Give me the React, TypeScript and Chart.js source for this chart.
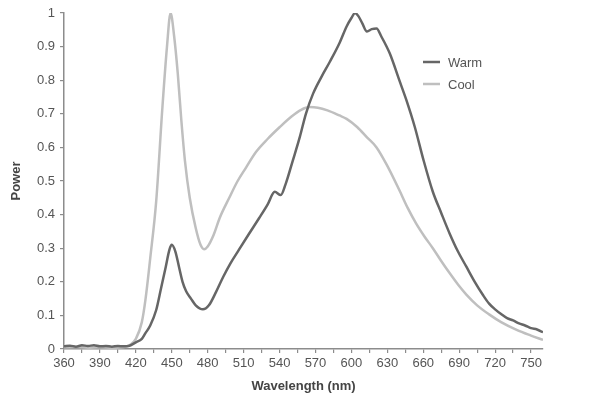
import React, { useEffect, useRef } from "react";
import { Chart, registerables } from "chart.js";

Chart.register(...registerables);

const warmNm = [360, 365, 370, 375, 380, 385, 390, 395, 400, 405, 410, 414, 420, 425, 428, 432, 437, 441, 445, 448, 450, 453, 456, 459, 462, 466, 470, 476, 481, 487, 493, 499, 506, 514, 523, 530, 536, 541, 545, 551, 557, 562, 568, 575, 582, 590, 596, 600, 603, 606, 609, 613, 617, 621, 625, 632, 640, 646, 653, 660, 668, 675, 682, 689, 696, 703, 710, 715, 720, 725, 730, 735, 740, 745, 750, 755, 760];
const warmPower = [0.008, 0.01, 0.007, 0.011, 0.009, 0.011, 0.008, 0.009, 0.007, 0.009, 0.008, 0.009, 0.02, 0.03, 0.047, 0.07, 0.116, 0.18, 0.245, 0.295, 0.31, 0.29, 0.245, 0.2, 0.172, 0.15, 0.13, 0.118, 0.13, 0.17, 0.215, 0.255, 0.295, 0.34, 0.39, 0.43, 0.468, 0.458, 0.49, 0.56, 0.632, 0.7, 0.76, 0.81, 0.855, 0.91, 0.96, 0.985, 1.0, 0.99, 0.97, 0.945, 0.952, 0.954, 0.93, 0.88, 0.8, 0.74, 0.66, 0.565, 0.468, 0.405, 0.344, 0.29, 0.245, 0.2, 0.16, 0.135, 0.118, 0.104, 0.092, 0.085, 0.076, 0.07, 0.062, 0.058, 0.05];

const coolNm = [360, 370, 380, 390, 400, 410, 415, 420, 425, 428, 432, 437, 442, 446, 449, 452, 455, 458, 461, 465, 470, 474, 477, 480, 485, 490, 498, 505, 512, 520, 530, 540, 550, 558, 565, 572, 580, 590, 596, 605, 613, 621, 630, 640, 647, 654, 661, 668, 675, 682, 689, 696, 705, 715, 725, 738, 750, 760];
const coolPower = [0.005, 0.006, 0.004, 0.005, 0.004, 0.006, 0.012, 0.03, 0.08, 0.146, 0.27, 0.44, 0.71, 0.9, 1.0, 0.93, 0.82, 0.68, 0.56, 0.45, 0.36, 0.31, 0.297, 0.305, 0.34, 0.39, 0.45, 0.5, 0.54, 0.585, 0.625, 0.66, 0.692, 0.712, 0.72, 0.718, 0.71, 0.695, 0.685, 0.66, 0.63, 0.6, 0.545, 0.473, 0.42, 0.374, 0.335, 0.3, 0.262, 0.226, 0.192, 0.162, 0.13, 0.103, 0.08, 0.057, 0.04, 0.027];

const seriesNames = ["Warm", "Cool"];
const seriesColors = ["#666666", "#bfbfbf"];
const xTitle = "Wavelength (nm)";
const yTitle = "Power";

const FONT = "'Liberation Sans', Arial, Helvetica, sans-serif";
const TEXT = "#555555";
const AXIS = "#8c8c8c";

const legendPlugin = {
  id: "insideLegend",
  afterDraw(chart: any) {
    const ctx = chart.ctx;
    const area = chart.chartArea;
    const x0 = area.left + 359;
    const y0 = area.top + 49;
    ctx.save();
    ctx.font = "13px " + FONT;
    ctx.textBaseline = "middle";
    ctx.textAlign = "left";
    seriesNames.forEach((name, i) => {
      const y = y0 + i * 22;
      ctx.strokeStyle = seriesColors[i];
      ctx.lineWidth = 2.5;
      ctx.beginPath();
      ctx.moveTo(x0, y);
      ctx.lineTo(x0 + 17, y);
      ctx.stroke();
      ctx.fillStyle = TEXT;
      ctx.fillText(name, x0 + 25, y + 1);
    });
    ctx.restore();
  },
};

export default function App() {
  const ref = useRef<HTMLCanvasElement | null>(null);
  useEffect(() => {
    if (!ref.current) return;
    const chart = new Chart(ref.current, {
      type: "line",
      data: {
        datasets: [
          {
            label: seriesNames[0],
            data: warmNm.map((x, i) => ({ x, y: warmPower[i] })),
            borderColor: seriesColors[0],
            borderWidth: 2.5,
            pointRadius: 0,
            cubicInterpolationMode: "monotone",
          },
          {
            label: seriesNames[1],
            data: coolNm.map((x, i) => ({ x, y: coolPower[i] })),
            borderColor: seriesColors[1],
            borderWidth: 2.5,
            pointRadius: 0,
            cubicInterpolationMode: "monotone",
          },
        ],
      },
      options: {
        animation: false,
        responsive: false,
        maintainAspectRatio: false,
        layout: { padding: { top: 13, right: 52, left: 0, bottom: 0 } },
        plugins: { legend: { display: false }, tooltip: { enabled: false } },
        scales: {
          x: {
            type: "linear",
            min: 360,
            max: 760,
            afterBuildTicks: (scale: any) => {
              const t = [];
              for (let v = 360; v <= 750; v += 15) t.push({ value: v });
              scale.ticks = t;
            },
            afterFit: (scale: any) => {
              scale.height = 50;
            },
            ticks: {
              autoSkip: false,
              maxRotation: 0,
              padding: 3,
              color: TEXT,
              font: { family: FONT, size: 13 },
              callback: (v: any) => ((v - 360) % 30 === 0 ? String(v) : ""),
            },
            grid: { drawOnChartArea: false, drawTicks: true, tickLength: 4, color: AXIS, lineWidth: 1.2 },
            border: { display: true, color: AXIS, width: 1.5 },
            title: {
              display: true,
              text: xTitle,
              color: "#444444",
              font: { family: FONT, size: 13, weight: "bold" },
              padding: { top: 0, bottom: 5 },
            },
          },
          y: {
            min: 0,
            max: 1,
            afterBuildTicks: (scale: any) => {
              const t = [];
              for (let i = 0; i <= 10; i++) t.push({ value: i / 10 });
              scale.ticks = t;
            },
            afterFit: (scale: any) => {
              scale.width = 64;
            },
            ticks: {
              padding: 5,
              color: TEXT,
              font: { family: FONT, size: 13 },
              callback: (v: any) => (v === 0 ? "0" : v === 1 ? "1" : Number(v).toFixed(1)),
            },
            grid: { drawOnChartArea: false, drawTicks: true, tickLength: 4, color: AXIS, lineWidth: 1.2 },
            border: { display: true, color: AXIS, width: 1.5 },
            title: {
              display: true,
              text: yTitle,
              color: "#444444",
              font: { family: FONT, size: 13, weight: "bold" },
              padding: { top: 9, bottom: 0 },
            },
          },
        },
      },
      plugins: [legendPlugin],
    } as any);
    return () => chart.destroy();
  }, []);
  return (
    <div style={{ position: "absolute", left: 0, top: 0, width: 595, height: 399, background: "#fff" }}>
      <canvas ref={ref} width={595} height={399} style={{ width: 595, height: 399, display: "block" }} />
    </div>
  );
}
